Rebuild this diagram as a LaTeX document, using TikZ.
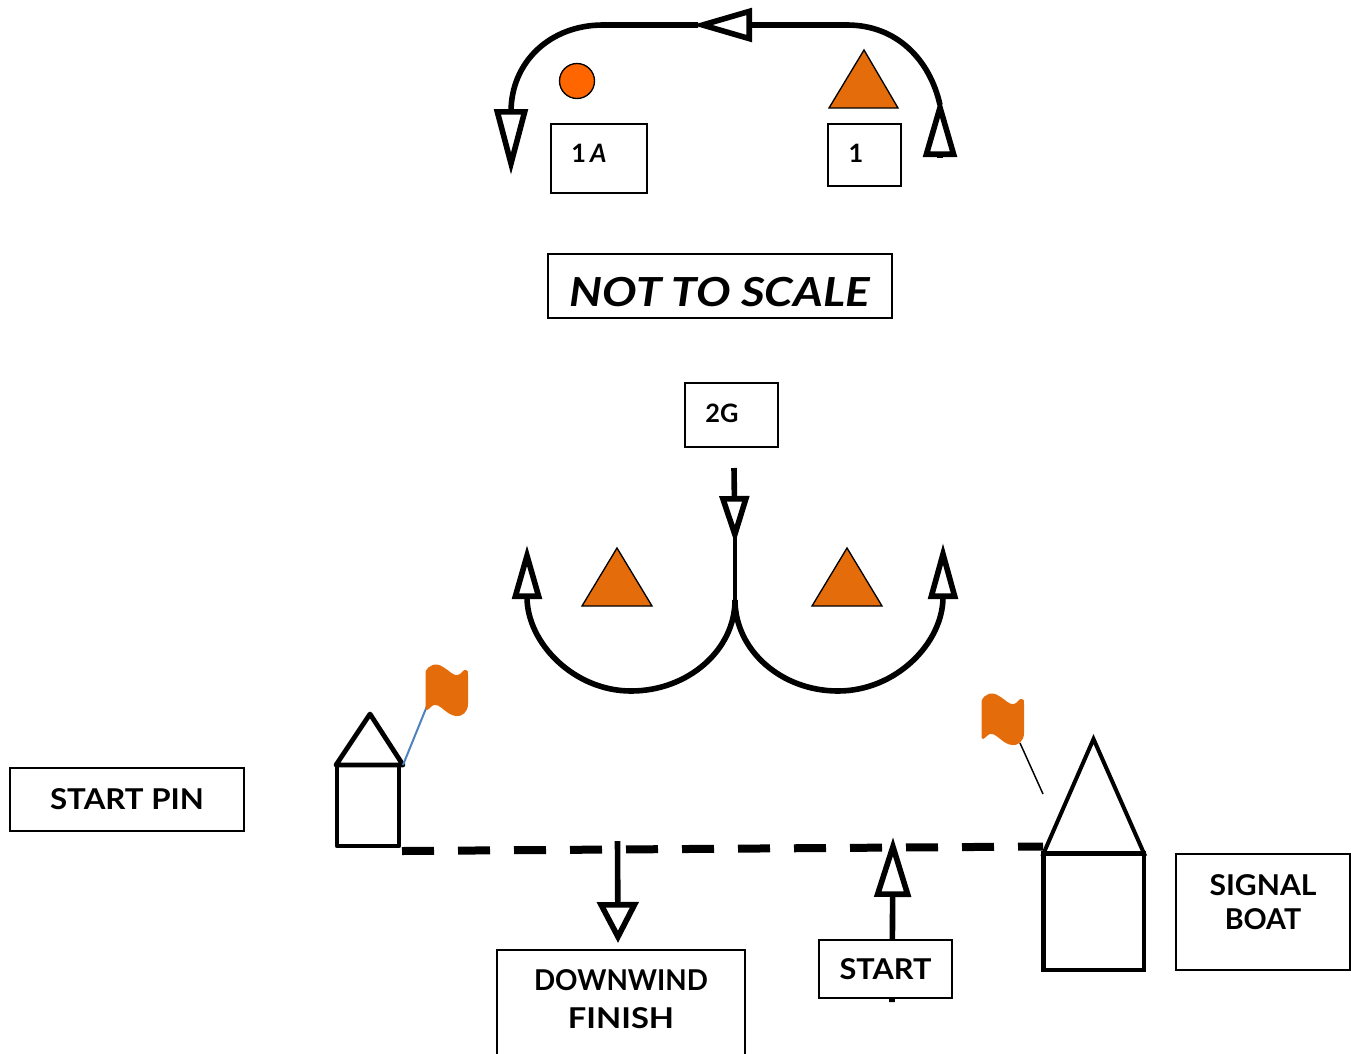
\documentclass[tikz,border=0pt]{standalone}
\usepackage{fontspec}
\setmainfont{Lato}
\usetikzlibrary{arrows.meta}
\definecolor{markorange}{HTML}{E46C0A}
\definecolor{ballorange}{HTML}{FF6600}
\definecolor{flagblue}{HTML}{4F81BD}
\tikzset{
  wpx/.style={minimum width=#1*0.75pt},
  hpx/.style={minimum height=#1*0.75pt},
  labelbox/.style={draw=black,fill=white,line width=1pt,inner sep=0pt,align=center},
  tag/.style={font=\fontsize{21.5}{27}\selectfont\bfseries,inner sep=0pt,align=center},
  smalltag/.style={font=\fontsize{19}{24}\selectfont\bfseries,inner sep=0pt},
  course/.style={draw=black,line width=4.2pt},
  head/.style n args={2}{-{Triangle[open,length=#1*0.75pt,width=#2*0.75pt]}},
  hull/.style={draw=black,line width=3.6pt,line join=round,line cap=round},
  buoy/.style={draw=black,fill=markorange,line width=1pt},
  flagshape/.style={fill=markorange},
}
\newcommand{\flagpath}{(425.5,672) .. controls (428,665) and (436,662) .. (443,667) .. controls (450,671) and (453,676) .. (458,675) .. controls (462,674) and (463,669) .. (466,670) .. controls (468,670) and (468,672) .. (468,675) -- (468,704) .. controls (468,712) and (462,717) .. (456,716) .. controls (447,715) and (442,706) .. (436,705) .. controls (432,704) and (430,709) .. (427,710) .. controls (425,710) and (425.5,708) .. (425.5,705) -- cycle}
\begin{document}
\begin{tikzpicture}[x=0.75pt,y=-0.75pt]
\useasboundingbox (0,0) rectangle (1351,1053);
% --- named connector points
\coordinate (topR) at (847,25);
\coordinate (topMid) at (692,25);
\coordinate (topJoin) at (698,25);
\coordinate (topL) at (603,25);
\coordinate (leftBase) at (511,112);
\coordinate (leftTip) at (511,175);
\coordinate (rightEnd) at (940,105);
\coordinate (rightBase) at (940,158);
\coordinate (rightTip) at (940,97);
\coordinate (gTop) at (734,468);
\coordinate (gTip) at (735,544);
\coordinate (gJoin) at (735,534);
\coordinate (gFork) at (735,600);
\coordinate (lowLbot) at (631,691);
\coordinate (lowRbot) at (838,691);
\coordinate (lowLbase) at (527,597);
\coordinate (lowLtip) at (527,545);
\coordinate (lowRbase) at (943,597);
\coordinate (lowRtip) at (943,543);
\coordinate (lineL) at (402,851);
\coordinate (lineR) at (1043,846.5);
\coordinate (dwTop) at (617.5,841);
\coordinate (dwTip) at (618,943);
\coordinate (stBot) at (892,1002);
\coordinate (stTip) at (893,837);
% --- top course
\draw[course,head={60}{33}] (topR) -- (topMid);
\draw[course,head={66}{33}] (topJoin) -- (topL) .. controls (550,25) and (511,62) .. (leftBase) -- (leftTip);
\draw[course] (topR) .. controls (897,25) and (930,60) .. (rightEnd);
\draw[course,head={60}{33}] (rightBase) -- (rightTip);
\node[circle,draw=black,fill=ballorange,line width=1pt,minimum size=35*0.75pt,inner sep=0pt] (ball) at (577,81) {};
\path[buoy] (864,50) -- (898,108) -- (829,108) -- cycle;
\node[labelbox,wpx=96,hpx=69] (box1A) at (599,158.5) {};
\node[smalltag] (t1A) at (589,153) {1\,\textit{A}};
\node[labelbox,wpx=73,hpx=62] (box1) at (864.5,155) {};
\node[smalltag] (t1) at (856,153) {1};
\node[labelbox,wpx=344,hpx=64] (scalebox) at (720,286) {};
\node[inner sep=0pt,font=\fontsize{30}{36}\selectfont\bfseries\itshape] (scale) at (720,292) {\scalebox{1.15}[1]{NOT TO SCALE}};
\node[labelbox,wpx=93,hpx=64] (box2G) at (731.5,415) {};
\node[smalltag] (t2G) at (722,413) {2G};
% --- gate course
\draw[course,head={48}{29}] (gTop) -- (gTip);
\draw[course,line width=3.6pt] (gJoin) -- (gFork);
\draw[course,head={54}{29}] (gFork) .. controls (735,650) and (688,691) .. (lowLbot) .. controls (574,691) and (527,643) .. (lowLbase) -- (lowLtip);
\draw[course,head={56}{29}] (gFork) .. controls (735,650) and (781,691) .. (lowRbot) .. controls (896,691) and (943,643) .. (lowRbase) -- (lowRtip);
\path[buoy] (617,548) -- (652,606) -- (582,606) -- cycle;
\path[buoy] (847,548) -- (882,606) -- (812,606) -- cycle;
% --- start line
\draw[black,line width=6pt,dash pattern=on 24pt off 18pt] (lineL) -- (lineR);
% --- pin boat
\draw[hull] (337,846) rectangle (399,765);
\draw[hull] (336,765) -- (370,714) -- (403,765) -- cycle;
\draw[flagblue,line width=1.5pt] (403,765) -- (427,706);
\fill[flagshape] \flagpath;
% --- signal boat
\draw[hull,line cap=butt,line join=miter,line width=3.3pt] (1043.5,853.5) rectangle (1144,970);
\draw[hull,line cap=butt,line join=miter,line width=3pt] (1043.5,853.5) -- (1093.5,739) -- (1144,853.5) -- cycle;
\draw[black,line width=1.1pt] (1020,743) -- (1043,794);
\begin{scope}[shift={(556,29)}]
\fill[flagshape] \flagpath;
\end{scope}
% --- start and finish arrows
\draw[course,head={41}{41}] (dwTop) -- (dwTip);
\draw[course,head={60}{36}] (stBot) -- (stTip);
\node[labelbox,wpx=133,hpx=58,tag] (start) at (885.5,969) {\scalebox{1.07}[1]{START}};
\node[labelbox,wpx=234,hpx=63,tag] (pin) at (127,799.5) {\scalebox{1.09}[1]{START PIN}};
\node[labelbox,wpx=174,hpx=116] (signalbox) at (1263,912) {};
\node[tag] (signal) at (1263,902) {\scalebox{1.05}[1]{SIGNAL}\\[-1pt]BOAT};
\node[labelbox,wpx=248,hpx=130] (finishbox) at (621,1015) {};
\node[tag] (finish) at (621,999) {\scalebox{.97}[1]{DOWNWIND}\\[1pt]\scalebox{1.14}[1]{FINISH}};
\end{tikzpicture}
\end{document}
